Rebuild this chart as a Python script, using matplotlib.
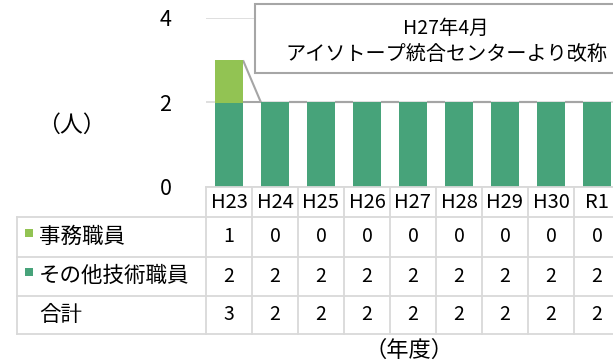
import matplotlib
matplotlib.use("Agg")
import matplotlib.pyplot as plt
from matplotlib.transforms import blended_transform_factory
from matplotlib.patches import Rectangle
from matplotlib.lines import Line2D

plt.rcParams['font.family'] = ['Noto Sans CJK JP', 'DejaVu Sans']

categories = ["H23", "H24", "H25", "H26", "H27", "H28", "H29", "H30", "R1"]
jimu = [1, 0, 0, 0, 0, 0, 0, 0, 0]
gijutsu = [2, 2, 2, 2, 2, 2, 2, 2, 2]
series_names = ["事務職員", "その他技術職員"]
total_label = "合計"
yticks = [0, 2, 4]
callout_lines = ["H27年4月", "アイソトープ統合センターより改称"]

C_LIGHT = "#92C353"
C_DARK = "#47A37A"
GRID = "#D9D9D9"
SER = "#A5A5A5"

W, H = 613, 364
fig = plt.figure(figsize=(W / 100, H / 100), dpi=100)

def fx(px):
    return px / W

def fy(py):
    return 1 - py / H

ax = fig.add_axes([fx(206), fy(187), fx(620) - fx(206), fy(18) - fy(187)])
n = len(categories)
x = list(range(n))
bw = 0.61
ax.bar(x, gijutsu, width=bw, color=C_DARK, zorder=3)
ax.bar(x, jimu, width=bw, bottom=gijutsu, color=C_LIGHT, zorder=3)
ax.set_xlim(-0.5, n - 0.5)
ax.set_ylim(0, 4)
ax.set_yticks(yticks)
ax.set_yticklabels([str(t) for t in yticks], fontsize=15.5)
ax.tick_params(axis='y', length=0, pad=25)
ax.set_xticks([])
for s in ax.spines.values():
    s.set_visible(False)
ax.yaxis.grid(True, color=GRID, lw=1.2, zorder=0)
ax.set_axisbelow(True)

# series lines
tops1 = gijutsu
tops2 = [a + b for a, b in zip(gijutsu, jimu)]
for tops in (tops1, tops2):
    for i in range(n - 1):
        ax.plot([i + bw / 2, i + 1 - bw / 2], [tops[i], tops[i + 1]],
                color=SER, lw=1.5, zorder=2, solid_capstyle='butt')

# callout box
box = Rectangle((fx(255), fy(73)), fx(640) - fx(255), fy(4) - fy(73),
                transform=fig.transFigure, facecolor="white", edgecolor="#A6A6A6",
                lw=1.5, zorder=10, clip_on=False)
fig.add_artist(box)
fig.text(fx(446), fy(28), callout_lines[0], ha='center', va='center', fontsize=14, zorder=11)
fig.text(fx(446), fy(55), callout_lines[1], ha='center', va='center', fontsize=14.5, zorder=11)

# table
tr = blended_transform_factory(ax.transData, fig.transFigure)
row_y = [187, 217, 257, 296, 334]
lw_t = 1.3
for i in range(n + 1):
    fig.add_artist(Line2D([i - 0.5, i - 0.5], [fy(187), fy(334)], transform=tr,
                          color=GRID, lw=lw_t, clip_on=False))
fig.add_artist(Line2D([fx(17), fx(17)], [fy(217), fy(334)], transform=fig.transFigure,
                      color=GRID, lw=lw_t))
fig.add_artist(Line2D([fx(206), fx(640)], [fy(187), fy(187)], transform=fig.transFigure,
                      color=GRID, lw=lw_t))
for yy in row_y[1:]:
    fig.add_artist(Line2D([fx(17), fx(640)], [fy(yy), fy(yy)], transform=fig.transFigure,
                          color=GRID, lw=lw_t))

for i, c in enumerate(categories):
    fig.text(i, fy(203), c, transform=tr, ha='center', va='center', fontsize=14.5)
rows = [jimu, gijutsu, tops2]
row_cy = [237, 276, 315]
for r, vals in enumerate(rows):
    for i, v in enumerate(vals):
        fig.text(i, fy(row_cy[r]), str(v), transform=tr, ha='center', va='center', fontsize=14)

labels = series_names + [total_label]
for r, lab in enumerate(labels):
    fig.text(fx(39), fy(row_cy[r]), lab, ha='left', va='center', fontsize=15.5)
for r, col in enumerate([C_LIGHT, C_DARK]):
    cy = row_cy[r] - 4
    fig.add_artist(Rectangle((fx(25), fy(cy + 4)), fx(8), fy(0) - fy(8),
                             transform=fig.transFigure, facecolor=col, edgecolor='none'))

fig.text(fx(71), fy(125), "（人）", ha='center', va='center', fontsize=16.5)
fig.text(fx(409), fy(350), "（年度）", ha='center', va='center', fontsize=16)

fig.savefig("out.png", dpi=100)
